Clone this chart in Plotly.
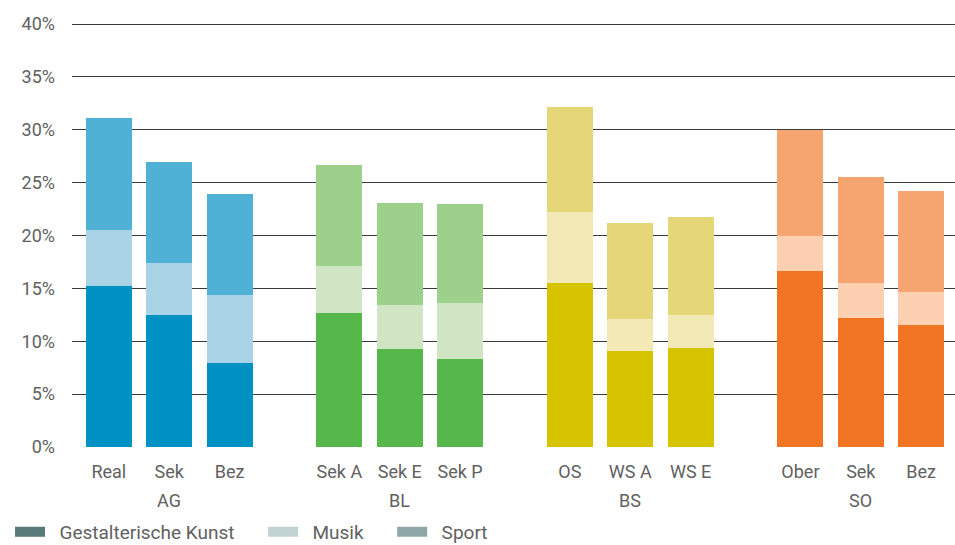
import plotly.graph_objects as go

# ---- data ----
groups = ["AG", "BL", "BS", "SO"]
schools = [["Real", "Sek", "Bez"], ["Sek A", "Sek E", "Sek P"],
           ["OS", "WS A", "WS E"], ["Ober", "Sek", "Bez"]]
kunst = [15.2, 12.5, 7.9, 12.7, 9.3, 8.3, 15.5, 9.1, 9.4, 16.6, 12.2, 11.5]
musik = [5.3, 4.9, 6.5, 4.4, 4.1, 5.3, 6.7, 3.0, 3.1, 3.4, 3.3, 3.2]
sport = [10.6, 9.6, 9.5, 9.6, 9.7, 9.4, 10.0, 9.1, 9.3, 10.0, 10.0, 9.5]
series_names = ["Gestalterische Kunst", "Musik", "Sport"]
y_ticks = [0, 5, 10, 15, 20, 25, 30, 35, 40]
y_tick_labels = [f"{v}%" for v in y_ticks]

# ---- styles ----
group_colors = {
    "AG": ["#0092c2", "#aad3e6", "#50b1d6"],
    "BL": ["#56b84a", "#cfe5c4", "#9dd08b"],
    "BS": ["#d6c400", "#f3e9b6", "#e5d777"],
    "SO": ["#f07422", "#fcd0b0", "#f7a570"],
}
legend_colors = ["#587a78", "#c1d3d2", "#8fa8a7"]
GROUP_STEP = 3.818
BAR_W = 0.76
FONT = "Roboto, sans-serif"
TXT = "#616161"
FS = 18
NB = "\u00a0"

x_pos, tick_text, bar_group = [], [], []
for g, grp in enumerate(groups):
    for i, s in enumerate(schools[g]):
        x_pos.append(g * GROUP_STEP + i)
        tick_text.append(s)
        bar_group.append(grp)

fig = go.Figure()
for k, vals in enumerate([kunst, musik, sport]):
    fig.add_trace(go.Bar(
        x=x_pos, y=vals, width=BAR_W,
        marker=dict(color=[group_colors[g][k] for g in bar_group], line=dict(width=0)),
        showlegend=False, name=series_names[k],
        hovertemplate="%{y:.1f}%<extra>" + series_names[k] + "</extra>",
    ))
for k, name in enumerate(series_names):
    fig.add_trace(go.Scatter(
        x=[None], y=[None], mode="lines",
        name=NB * 2 + name + NB * 5,
        line=dict(color=legend_colors[k], width=10), showlegend=True,
    ))

for g, grp in enumerate(groups):
    fig.add_annotation(
        x=g * GROUP_STEP + 1, y=0, xref="x", yref="paper",
        text=grp, showarrow=False, yanchor="middle", yshift=-53,
        font=dict(family=FONT, size=FS, color=TXT),
    )

fig.update_layout(
    barmode="stack",
    width=955, height=545,
    margin=dict(l=72, r=0, t=23, b=98),
    paper_bgcolor="white", plot_bgcolor="white",
    font=dict(family=FONT, size=FS, color=TXT),
    xaxis=dict(
        range=[-0.61, 3 * GROUP_STEP + 2 + 0.56],
        tickvals=x_pos, ticktext=tick_text,
        showgrid=False, zeroline=False, showline=False, ticks="",
        ticklabelstandoff=12, automargin=False,
        tickfont=dict(family=FONT, size=FS, color=TXT),
    ),
    yaxis=dict(
        range=[0, 40.1], tickvals=y_ticks, ticktext=y_tick_labels,
        showgrid=True, gridcolor="#3a3a3a", gridwidth=1,
        zeroline=False, showline=False, ticks="",
        ticklabelstandoff=16, automargin=False,
        tickfont=dict(family=FONT, size=FS, color=TXT),
    ),
    legend=dict(
        orientation="h", xref="container", yref="container",
        x=0.0105, y=0.024, xanchor="left", yanchor="middle",
        font=dict(family=FONT, size=19, color=TXT),
        itemwidth=30, bgcolor="rgba(0,0,0,0)", traceorder="normal",
    ),
    bargap=0,
)

fig.write_html(
    "out.html",
    config={"displayModeBar": False},
    post_script="document.body.style.margin='0';document.body.style.overflow='hidden';",
)
